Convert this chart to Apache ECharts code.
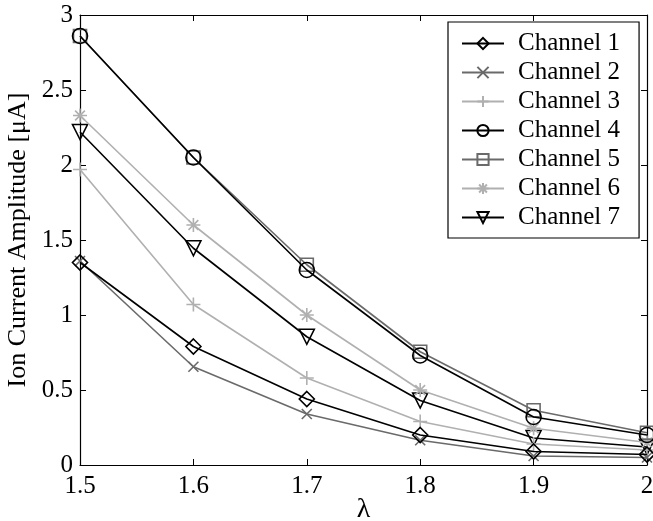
<!DOCTYPE html>
<html><head><meta charset="utf-8">
<script src="https://cdn.jsdelivr.net/npm/echarts@6/dist/echarts.min.js"></script>
<style>html,body{margin:0;padding:0;background:#fff}#c{width:653px;height:521px}</style>
</head><body><div id="c"></div>
<script>
const lambdas = [1.5, 1.6, 1.7, 1.8, 1.9, 2.0];
const ch1 = [1.35, 0.79, 0.44, 0.20, 0.09, 0.07];
const ch2 = [1.36, 0.655, 0.34, 0.165, 0.06, 0.05];
const ch3 = [1.97, 1.07, 0.58, 0.29, 0.14, 0.10];
const ch4 = [2.86, 2.05, 1.30, 0.73, 0.32, 0.20];
const ch5 = [2.86, 2.05, 1.335, 0.755, 0.365, 0.215];
const ch6 = [2.33, 1.60, 1.00, 0.50, 0.245, 0.15];
const ch7 = [2.22, 1.445, 0.855, 0.43, 0.18, 0.12];
const names = ['Channel 1','Channel 2','Channel 3','Channel 4','Channel 5','Channel 6','Channel 7'];
const xTicks = ['1.5','1.6','1.7','1.8','1.9','2'];
const yTicks = ['0','0.5','1','1.5','2','2.5','3'];

const BLACK = '#000000', GRAY = '#6a6a6a', LIGHT = '#b0b0b0';
const FONT = '"Liberation Serif", "Times New Roman", serif';
const sym = {
  diamond: 'path://M5 0 L10 5 L5 10 L0 5 Z',
  cross: 'path://M0 0 L10 10 M10 0 L0 10',
  plus: 'path://M5 0 L5 10 M0 5 L10 5',
  star: 'path://M5 0 L5 10 M0 5 L10 5 M1.5 1.5 L8.5 8.5 M8.5 1.5 L1.5 8.5',
  square: 'path://M0 0 L10 0 L10 10 L0 10 Z'
};
const specs = [
  [ch1, BLACK, sym.diamond, 15, 0],
  [ch2, GRAY, sym.cross, 10, 0],
  [ch3, LIGHT, sym.plus, 14, 0],
  [ch4, BLACK, 'circle', 15, 0],
  [ch5, GRAY, sym.square, 13, 0],
  [ch6, LIGHT, sym.star, 14, 0],
  [ch7, BLACK, 'triangle', 15, 180]
];
const series = specs.map((s, i) => ({
  name: names[i], type: 'line', data: lambdas.map((x, j) => [x, s[0][j]]),
  symbol: s[2], symbolSize: s[3], symbolRotate: s[4], showAllSymbol: true,
  clip: false, z: 10 - i,
  lineStyle: {color: s[1], width: 1.6},
  itemStyle: {color: 'none', borderColor: s[1], borderWidth: 1.6},
  emphasis: {disabled: true}, animation: false
}));
const axisLine = {show: true, onZero: false, lineStyle: {color: '#000', width: 1.2}};
const tick = {show: true, inside: true, length: 6, lineStyle: {color: '#000', width: 1}};
const chart = echarts.init(document.getElementById('c'), null, {renderer: 'canvas'});
chart.setOption({
  animation: false,
  backgroundColor: '#fff',
  grid: {left: 80, right: 6, top: 15, bottom: 56, containLabel: false, outerBoundsMode: 'none'},
  legend: {
    show: true, orient: 'vertical', left: 448, top: 22,
    padding: [9, 19, 8, 13], itemGap: 4, itemWidth: 42, itemHeight: 14,
    backgroundColor: '#fff', borderColor: '#000', borderWidth: 1.2,
    textStyle: {fontFamily: FONT, fontSize: 25, color: '#000', padding: [0,0,0,9]},
    data: names
  },
  xAxis: [
    {type: 'value', min: 1.5, max: 2, interval: 0.1, position: 'bottom',
     name: 'λ', nameLocation: 'middle', nameGap: 31, nameMoveOverlap: false,
     nameTextStyle: {fontFamily: FONT, fontSize: 28, color: '#000'},
     axisLine: axisLine, axisTick: tick, splitLine: {show: false},
     axisLabel: {show: true, margin: 9, fontFamily: FONT, fontSize: 25, color: '#000',
       showMinLabel: true, showMaxLabel: true,
       formatter: v => xTicks[Math.round((v - 1.5) * 10)]}},
    {type: 'value', min: 1.5, max: 2, interval: 0.1, position: 'top',
     axisLine: axisLine, axisTick: tick, axisLabel: {show: false}, splitLine: {show: false}}
  ],
  yAxis: [
    {type: 'value', min: 0, max: 3, interval: 0.5, position: 'left',
     name: 'Ion Current Amplitude [μA]', nameLocation: 'middle', nameGap: 45,
     nameTextStyle: {fontFamily: FONT, fontSize: 26, color: '#000'},
     axisLine: axisLine, axisTick: tick, splitLine: {show: false},
     axisLabel: {show: true, margin: 7, fontFamily: FONT, fontSize: 25, color: '#000',
       formatter: v => yTicks[Math.round(v * 2)]}},
    {type: 'value', min: 0, max: 3, interval: 0.5, position: 'right',
     axisLine: axisLine, axisTick: tick, axisLabel: {show: false}, splitLine: {show: false}}
  ],
  series: series
});
</script></body></html>
